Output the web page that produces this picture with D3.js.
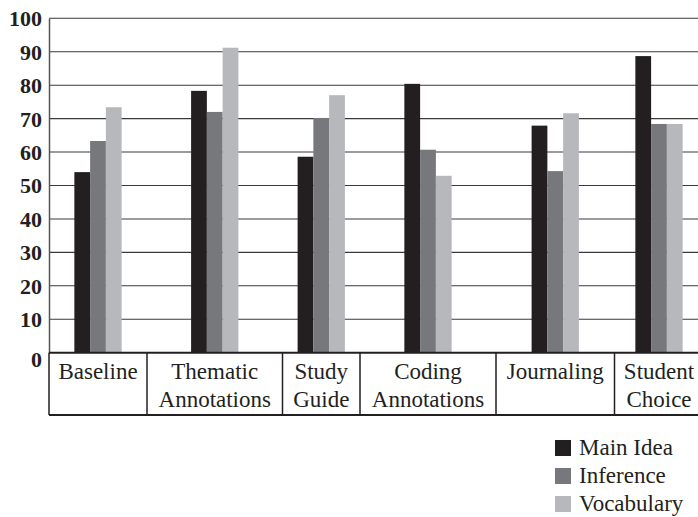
<!DOCTYPE html>
<html>
<head>
<meta charset="utf-8">
<script src="https://cdn.jsdelivr.net/npm/d3@7/dist/d3.min.js"></script>
<style>
  html, body { margin: 0; padding: 0; background: #fff; }
  svg { display: block; }
  text { font-family: "Liberation Serif", "DejaVu Serif", serif; fill: #231f20; }
</style>
</head>
<body>
<svg id="chart" width="698" height="517"></svg>
<script>
// Category labels (each entry is the list of lines shown in its table cell)
const categories = ["Baseline", "Thematic Annotations", "Study Guide", "Coding Annotations", "Journaling", "Student Choice"];
const categoryLines = [["Baseline"], ["Thematic", "Annotations"], ["Study", "Guide"], ["Coding", "Annotations"], ["Journaling"], ["Student", "Choice"]];
const seriesNames = ["Main Idea", "Inference", "Vocabulary"];
const mainIdea   = [54.0, 78.3, 58.6, 80.4, 67.9, 88.7];
const inference  = [63.3, 72.0, 70.2, 60.7, 54.3, 68.4];
const vocabulary = [73.4, 91.2, 77.0, 52.9, 71.6, 68.4];
const yTicks = [0, 10, 20, 30, 40, 50, 60, 70, 80, 90, 100];

// Layout
const plotLeft = 49, plotTop = 18.3, plotBottom = 352.7, tableBottom = 415;
const cellWidths = [98, 135.5, 77.5, 136, 118.5, 89];
const groupWidth = 47.3;
const colors = ["#231f20", "#77787b", "#b7b8bb"];

const svg = d3.select("#chart");
const series = [mainIdea, inference, vocabulary];

// Column boundaries of the category table
const edges = [plotLeft];
cellWidths.forEach(w => edges.push(edges[edges.length - 1] + w));
const plotRight = edges[edges.length - 1];

const x = d3.scaleOrdinal().domain(categories).range(categories.map((c, i) => (edges[i] + edges[i + 1]) / 2));
const xInner = d3.scaleBand().domain(seriesNames).range([-groupWidth / 2, groupWidth / 2]).padding(0);
const y = d3.scaleLinear().domain([0, 100]).range([plotBottom, plotTop]);

// Horizontal gridlines
svg.append("g")
  .selectAll("line")
  .data(yTicks.filter(t => t > 0))
  .join("line")
  .attr("x1", plotLeft).attr("x2", plotRight)
  .attr("y1", d => y(d)).attr("y2", d => y(d))
  .attr("stroke", "#3a3a3a").attr("stroke-width", 1.1);

// Bars
const rows = categories.map((c, i) => ({ cat: c, values: series.map((s, k) => ({ name: seriesNames[k], v: s[i], k })) }));
svg.append("g")
  .selectAll("g")
  .data(rows)
  .join("g")
  .attr("transform", d => `translate(${x(d.cat)},0)`)
  .selectAll("rect")
  .data(d => d.values)
  .join("rect")
  .attr("x", d => xInner(d.name))
  .attr("width", xInner.bandwidth())
  .attr("y", d => y(d.v))
  .attr("height", d => y(0) - y(d.v))
  .attr("fill", d => colors[d.k]);

// Y axis
const yAxis = d3.axisLeft(y).tickValues(yTicks).tickSize(0).tickPadding(7);
const gy = svg.append("g").attr("transform", `translate(${plotLeft},0)`).call(yAxis);
gy.attr("font-family", null);
gy.select(".domain").attr("stroke", "#555").attr("stroke-width", 1.5);
gy.selectAll("text")
  .style("font-family", '"Liberation Serif", serif')
  .style("font-size", "22px").style("font-weight", "bold").attr("fill", "#231f20")
  .attr("dy", d => d === 0 ? "0.62em" : "0.34em");

// Category table below the plot
const table = svg.append("g");
table.append("line").attr("x1", plotLeft).attr("x2", plotRight).attr("y1", plotBottom).attr("y2", plotBottom)
  .attr("stroke", "#231f20").attr("stroke-width", 2);
table.append("line").attr("x1", plotLeft).attr("x2", plotRight).attr("y1", tableBottom).attr("y2", tableBottom)
  .attr("stroke", "#231f20").attr("stroke-width", 2);
table.selectAll("line.div")
  .data(edges)
  .join("line")
  .attr("class", "div")
  .attr("x1", d => d).attr("x2", d => d)
  .attr("y1", plotBottom).attr("y2", tableBottom)
  .attr("stroke", "#231f20").attr("stroke-width", 1.5);

table.selectAll("text.cat")
  .data(categories)
  .join("text")
  .attr("class", "cat")
  .attr("x", d => x(d))
  .attr("text-anchor", "middle")
  .style("font-size", "23px")
  .selectAll("tspan")
  .data((d, i) => categoryLines[i])
  .join("tspan")
  .attr("x", function () { return d3.select(this.parentNode).attr("x"); })
  .attr("y", (d, j) => 379 + j * 27.5)
  .text(d => d);

// Legend
const legend = svg.append("g").attr("transform", "translate(555,440)");
const item = legend.selectAll("g")
  .data(seriesNames)
  .join("g")
  .attr("transform", (d, i) => `translate(0,${i * 28})`);
item.append("rect").attr("width", 16).attr("height", 16).attr("fill", (d, i) => colors[i]);
item.append("text").attr("x", 24).attr("y", 14.5).style("font-size", "23px").text(d => d);
</script>
</body>
</html>
